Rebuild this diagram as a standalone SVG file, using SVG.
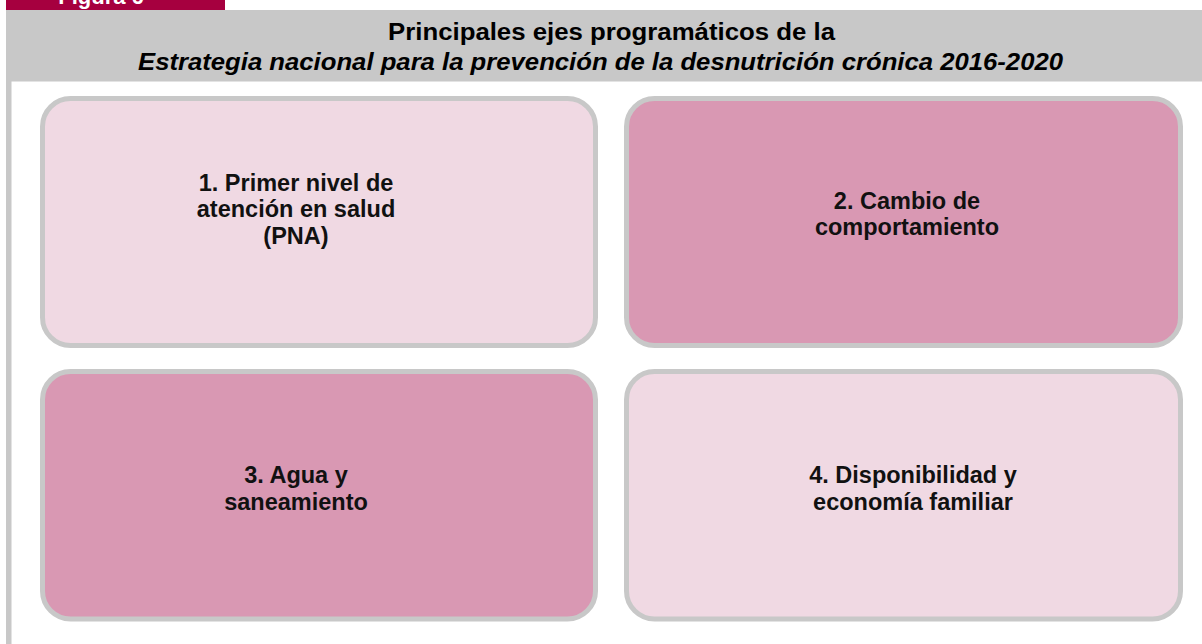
<svg xmlns="http://www.w3.org/2000/svg" width="1202" height="644" viewBox="0 0 1202 644">
<style>
.box{stroke:#C8C8C8;stroke-width:5}
.light{fill:#F0D9E3}
.dark{fill:#D998B3}
.lbl{font-family:"Liberation Sans",Arial,sans-serif;font-weight:bold;font-size:23.5px;fill:#111;text-anchor:middle}
.title{font-family:"Liberation Sans",Arial,sans-serif;font-weight:bold;font-size:23px;fill:#000;text-anchor:middle}
</style>
<rect x="0" y="0" width="1202" height="644" fill="#FFFFFF"/>
<g id="header">
<rect x="6" y="0" width="219" height="10" fill="#A6003F"/>
<text x="101" y="4" font-family="Liberation Sans, Arial, sans-serif" font-weight="bold" font-size="22" fill="#FFFFFF" text-anchor="middle">Figura 6</text>
<rect x="6" y="10" width="1196" height="71.5" fill="#C8C8C8"/>
<rect x="6" y="81" width="5.5" height="563" fill="#C8C8C8"/>
<text class="title" x="611.5" y="40" textLength="447" lengthAdjust="spacingAndGlyphs">Principales ejes programáticos de la</text>
<text class="title" x="600.5" y="70" font-style="italic" textLength="925" lengthAdjust="spacingAndGlyphs">Estrategia nacional para la prevención de la desnutrición crónica 2016-2020</text>
</g>
<g id="connectors"></g>
<g id="node1">
<rect class="box light" x="42.5" y="98.5" width="553" height="247" rx="28" ry="28"/>
<text class="lbl" x="296" y="191">1. Primer nivel de</text>
<text class="lbl" x="296" y="217">atención en salud</text>
<text class="lbl" x="296" y="244">(PNA)</text>
</g>
<g id="node2">
<rect class="box dark" x="626.5" y="98.5" width="554" height="247" rx="28" ry="28"/>
<text class="lbl" x="907" y="209">2. Cambio de</text>
<text class="lbl" x="907" y="235">comportamiento</text>
</g>
<g id="node3">
<rect class="box dark" x="42.5" y="371.5" width="553" height="247.5" rx="28" ry="28"/>
<text class="lbl" x="296" y="483">3. Agua y</text>
<text class="lbl" x="296" y="510">saneamiento</text>
</g>
<g id="node4">
<rect class="box light" x="626.5" y="371.5" width="554" height="247.5" rx="28" ry="28"/>
<text class="lbl" x="913" y="483">4. Disponibilidad y</text>
<text class="lbl" x="913" y="510">economía familiar</text>
</g>
</svg>
